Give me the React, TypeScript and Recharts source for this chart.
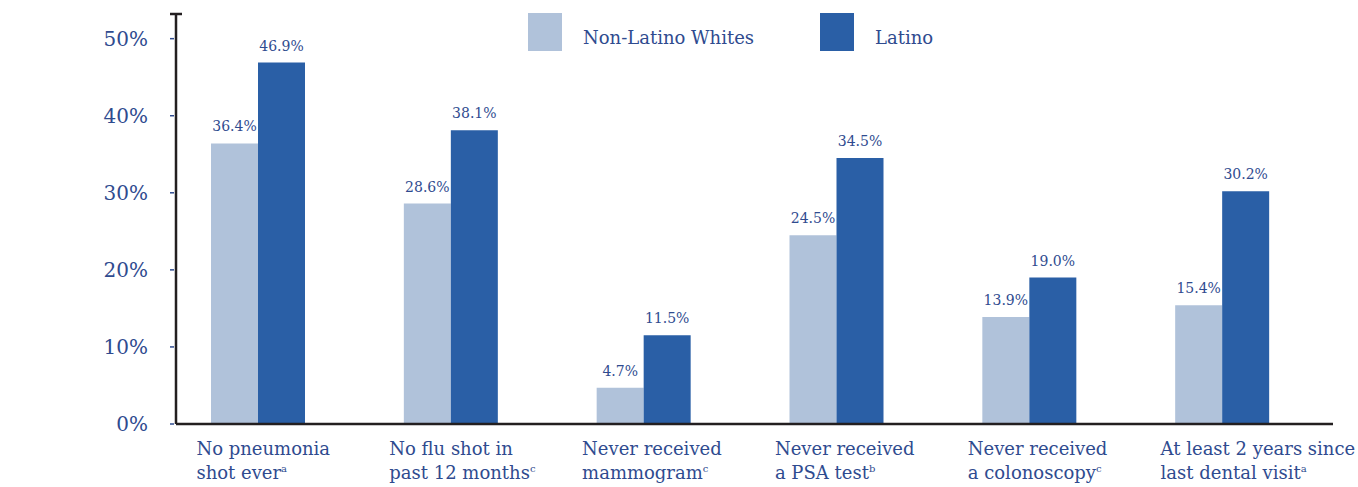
import React from "react";
import { BarChart, Bar, XAxis, YAxis, LabelList } from "recharts";

const categoryLine1 = [
  "No pneumonia",
  "No flu shot in",
  "Never received",
  "Never received",
  "Never received",
  "At least 2 years since",
];
const categoryLine2 = [
  "shot ever",
  "past 12 months",
  "mammogram",
  "a PSA test",
  "a colonoscopy",
  "last dental visit",
];
const footnotes = ["a", "c", "c", "b", "c", "a"];

const nonLatinoWhites = [36.4, 28.6, 4.7, 24.5, 13.9, 15.4];
const latino = [46.9, 38.1, 11.5, 34.5, 19.0, 30.2];

const yTicks = [0, 10, 20, 30, 40, 50];
const yTop = 53.2;

const LIGHT = "#B0C2DA";
const DARK = "#2A5FA6";
const TEXT = "#2F4B8F";
const AXIS = "#231F20";
const FONT = "'DejaVu Serif', serif";

const data = categoryLine1.map((l1, i) => ({
  name: l1 + " " + categoryLine2[i],
  white: nonLatinoWhites[i],
  latino: latino[i],
}));

const pct = (v: any) => Number(v).toFixed(1) + "%";

function YTick(props: any) {
  const { x, y, payload } = props;
  if (payload.value === yTop) {
    return <line x1={x - 6} x2={x + 6} y1={y} y2={y} stroke={AXIS} strokeWidth={2.5} />;
  }
  return (
    <g>
      <text x={x - 28} y={y} dy={7} textAnchor="end" fill={TEXT} fontSize={20} fontFamily={FONT}>
        {payload.value}%
      </text>
      <line x1={x - 6} x2={x - 2} y1={y} y2={y} stroke={TEXT} strokeWidth={1.5} />
    </g>
  );
}

function XTick(props: any) {
  const { x, y, payload } = props;
  const i = payload.index;
  return (
    <text x={x - 62} y={y} textAnchor="start" fill={TEXT} fontSize={18} fontFamily={FONT}>
      <tspan x={x - 62} dy={31}>{categoryLine1[i]}</tspan>
      <tspan x={x - 62} dy={24}>{categoryLine2[i]}</tspan>
      <tspan fontSize={10} dy={-7}>{footnotes[i]}</tspan>
    </text>
  );
}

function LegendBox() {
  const items = [
    { label: "Non-Latino Whites", color: LIGHT },
    { label: "Latino", color: DARK },
  ];
  return (
    <div
      style={{
        position: "absolute",
        left: 528,
        top: 13,
        display: "flex",
        alignItems: "center",
        fontFamily: FONT,
        fontSize: 18,
        color: TEXT,
      }}
    >
      {items.map((it, i) => (
        <div key={it.label} style={{ display: "flex", alignItems: "center", marginRight: i === 0 ? 66 : 0 }}>
          <div style={{ width: 34, height: 38, background: it.color, marginRight: 21 }} />
          <span style={{ paddingTop: 10 }}>{it.label}</span>
        </div>
      ))}
    </div>
  );
}

export default function App() {
  return (
    <div style={{ position: "absolute", left: 0, top: 0, width: 1358, height: 487, background: "#fff" }}>
      <BarChart
        width={1358}
        height={487}
        data={data}
        margin={{ top: 14, right: 25, bottom: 0, left: 0 }}
        barGap={0}
        barSize={47}
      >
        <XAxis
          dataKey="name"
          height={63}
          padding={{ left: -14, right: 14 }}
          axisLine={{ stroke: AXIS, strokeWidth: 2.5 }}
          tickLine={false}
          tickSize={0}
          tickMargin={0}
          tick={<XTick />}
          interval={0}
        />
        <YAxis
          width={176}
          domain={[0, yTop]}
          ticks={[...yTicks, yTop]}
          axisLine={{ stroke: AXIS, strokeWidth: 2.5 }}
          tickLine={false}
          tickSize={0}
          tickMargin={0}
          tick={<YTick />}
          interval={0}
        />
        <Bar dataKey="white" name="Non-Latino Whites" fill={LIGHT} isAnimationActive={false}>
          <LabelList dataKey="white" position="top" offset={12} fill={TEXT} fontSize={14} fontFamily={FONT} formatter={pct} />
        </Bar>
        <Bar dataKey="latino" name="Latino" fill={DARK} isAnimationActive={false}>
          <LabelList dataKey="latino" position="top" offset={12} fill={TEXT} fontSize={14} fontFamily={FONT} formatter={pct} />
        </Bar>
      </BarChart>
      <LegendBox />
    </div>
  );
}
